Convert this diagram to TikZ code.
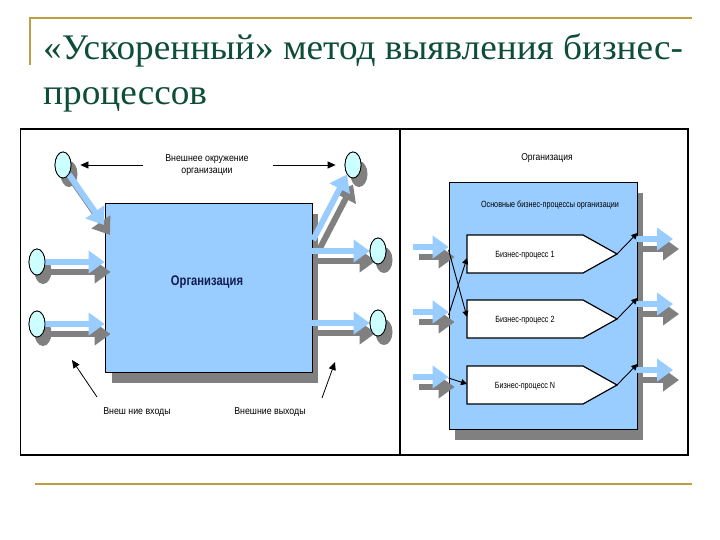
\documentclass[tikz,border=0pt]{standalone}
\usepackage{fontspec}
\setmainfont{Liberation Serif}
\newfontfamily\dg{Liberation Sans}
\usetikzlibrary{arrows.meta,shapes.geometric}
\definecolor{gold}{RGB}{186,160,64}
\definecolor{titlegreen}{RGB}{14,78,56}
\definecolor{boxblue}{RGB}{153,204,255}
\definecolor{shadowgrey}{RGB}{128,128,128}
\definecolor{circfill}{RGB}{204,255,255}
\definecolor{navy}{RGB}{20,28,80}
\begin{document}
\begin{tikzpicture}[x=1pt,y=-1pt,
  goldline/.style={draw=gold, line width=2pt},
  panel/.style={draw=black, line width=1.2pt},
  orgbox/.style={rectangle, draw=black, line width=0.8pt, fill=boxblue, inner sep=0pt},
  boxshadow/.style={fill=shadowgrey, draw=none},
  bubble/.style={ellipse, draw=black, line width=0.8pt, fill=circfill, minimum width=16pt, minimum height=26pt, inner sep=0pt},
  bubbleshadow/.style={ellipse, fill=shadowgrey, minimum width=17pt, minimum height=26pt, inner sep=0pt},
  barrow/.style={draw=boxblue, line width=6pt, -{Triangle[length=16pt,width=22pt]}},
  sarrow/.style={draw=shadowgrey, line width=6pt, -{Triangle[length=16pt,width=22pt]}, transform canvas={shift={(6pt,-10pt)}}},
  thinarrow/.style={draw=black, line width=0.8pt, -{Triangle[length=8pt,width=7pt]}},
  smallarrow/.style={draw=black, line width=0.9pt, -{Triangle[length=6pt,width=6pt]}},
  proc/.style={draw=black, line width=1.2pt, fill=white},
  lbl/.style={font=\dg\fontsize{10}{12}\selectfont, align=center, inner sep=0pt},
  slbl/.style={font=\dg\fontsize{9}{11}\selectfont, align=center, inner sep=0pt},
  ttl/.style={font=\fontsize{36}{40}\selectfont, text=titlegreen, inner sep=0pt, anchor=base west}
]
\useasboundingbox (0,0) rectangle (720,540);
\fill[white] (0,0) rectangle (720,540);

% title decorations
\draw[goldline] (30,65) -- (30,18) -- (692,18);
\draw[goldline] (35,484) -- (692,484);
\node[ttl] (t1) at (43,60) {\scalebox{1.035}[1]{«Ускоренный» метод выявления бизнес-}};
\node[ttl] (t2) at (43,105) {\scalebox{1.035}[1]{процессов}};

% panels
\draw[draw=black, line width=1pt] (20,129) rectangle (399,455);
\draw[draw=black, line width=1.2pt] (400,129) rectangle (688,455);
\draw[line width=2pt] (20,129) -- (688,129);
\draw[line width=2pt] (20,455) -- (688,455);

% ===== left panel =====
\fill[boxshadow] (112,214) rectangle (318,383);
\node[orgbox, minimum width=207pt, minimum height=169pt] (org) at (208.5,287.5) {};
\node[font=\dg\bfseries\fontsize{14}{16}\selectfont, text=navy, inner sep=0pt] (orgl) at (207,282) {\scalebox{0.8}[1]{Организация}};

\coordinate (cTLp) at (63,165);
\coordinate (cTRp) at (353,165);
\coordinate (cL1p) at (37,262);
\coordinate (cL2p) at (37,324);
\coordinate (cR1p) at (378,251);
\coordinate (cR2p) at (378,323);
\foreach \p in {cTLp,cTRp,cL1p,cL2p,cR1p,cR2p}
  \node[bubbleshadow] at ([shift={(6pt,-9pt)}]\p) {};

\node[bubble] (cTL) at (cTLp) {};
\node[bubble] (cTR) at (cTRp) {};
\node[bubble] (cL1) at (cL1p) {};
\node[bubble] (cL2) at (cL2p) {};
\node[bubble] (cR1) at (cR1p) {};
\node[bubble] (cR2) at (cR2p) {};

\coordinate (inTL) at (104,225);
\coordinate (outTR) at (313,240);
\foreach \st in {sarrow,barrow}{
  \draw[\st] (cTL.south east) -- (inTL);
  \draw[\st] (cL1.east) -- (org.west |- cL1);
  \draw[\st] (cL2.east) -- (org.west |- cL2);
  \draw[\st] (outTR) -- (cTR.south west);
  \draw[\st] (org.east |- cR1) -- (cR1.west);
  \draw[\st] (org.east |- cR2) -- (cR2.west);
}
% redraw bubbles on top
\node[bubble] at (cTLp) {};
\node[bubble] at (cTRp) {};
\node[bubble] at (cL1p) {};
\node[bubble] at (cL2p) {};
\node[bubble] at (cR1p) {};
\node[bubble] at (cR2p) {};

\node[lbl] (env) at (207,165) {\scalebox{0.88}[1]{Внешнее окружение}\\\scalebox{0.88}[1]{организации}};
\draw[thinarrow, shorten <=22pt, shorten >=9pt] (env.west |- cTL) -- (cTL.east);
\draw[thinarrow, shorten <=24pt, shorten >=9pt] (env.east |- cTR) -- (cTR.west);

\node[lbl] (inl) at (137,412) {\scalebox{0.88}[1]{Внеш ние входы}};
\node[lbl] (outl) at (270,412) {\scalebox{0.88}[1]{Внешние выходы}};
\coordinate (inTail) at (97,397);
\coordinate (inHead) at (72,360);
\coordinate (outTail) at (322,398);
\coordinate (outHead) at (335,362);
\draw[thinarrow] (inTail) -- (inHead);
\draw[thinarrow] (outTail) -- (outHead);

% ===== right panel =====
\node[lbl] (org2t) at (547,158) {\scalebox{0.85}[1]{Организация}};
\fill[boxshadow] (455,193) rectangle (643,440);
\node[orgbox, minimum width=188pt, minimum height=247pt] (big) at (543,305.5) {};
\node[slbl] (bp) at (550,205) {\scalebox{0.8}[1]{Основные бизнес-процессы организации}};

\draw[proc] (467,235) -- (583,235) -- (617,254) -- (583,273) -- (467,273) -- cycle;
\draw[proc] (467,300) -- (583,300) -- (617,319) -- (583,338) -- (467,338) -- cycle;
\draw[proc] (467,366) -- (583,366) -- (617,385) -- (583,404) -- (467,404) -- cycle;
\node[slbl] (p1) at (525,255) {\scalebox{0.8}[1]{Бизнес-процесс 1}};
\node[slbl] (p2) at (525,320) {\scalebox{0.8}[1]{Бизнес-процесс 2}};
\node[slbl] (pN) at (525,386) {\scalebox{0.8}[1]{Бизнес-процесс N}};
\coordinate (p1in) at (467,258);
\coordinate (p2in) at (467,317);
\coordinate (pNin) at (467,384);
\coordinate (p1tip) at (617,254);
\coordinate (p2tip) at (617,319);
\coordinate (pNtip) at (617,385);

\coordinate (in1) at (413,247);
\coordinate (in2) at (413,312);
\coordinate (in3) at (413,377);
\coordinate (o1) at (673,239);
\coordinate (o2) at (673,304);
\coordinate (o3) at (673,370);
\foreach \st in {sarrow,barrow}{
  \draw[\st] (in1) -- (big.west |- in1);
  \draw[\st] (in2) -- (big.west |- in2);
  \draw[\st] (in3) -- (big.west |- in3);
  \draw[\st] (big.east |- o1) -- (o1);
  \draw[\st] (big.east |- o2) -- (o2);
  \draw[\st] (big.east |- o3) -- (o3);
}
\draw[smallarrow] (big.west |- 0,250) -- (p2in);
\draw[smallarrow] (big.west |- 0,315) -- (p1in);
\draw[smallarrow] (big.west |- 0,378) -- (pNin);
\draw[smallarrow] (p1tip) -- (big.east |- 0,233);
\draw[smallarrow] (p2tip) -- (big.east |- 0,298);
\draw[smallarrow] (pNtip) -- (big.east |- 0,364);
\end{tikzpicture}
\end{document}
